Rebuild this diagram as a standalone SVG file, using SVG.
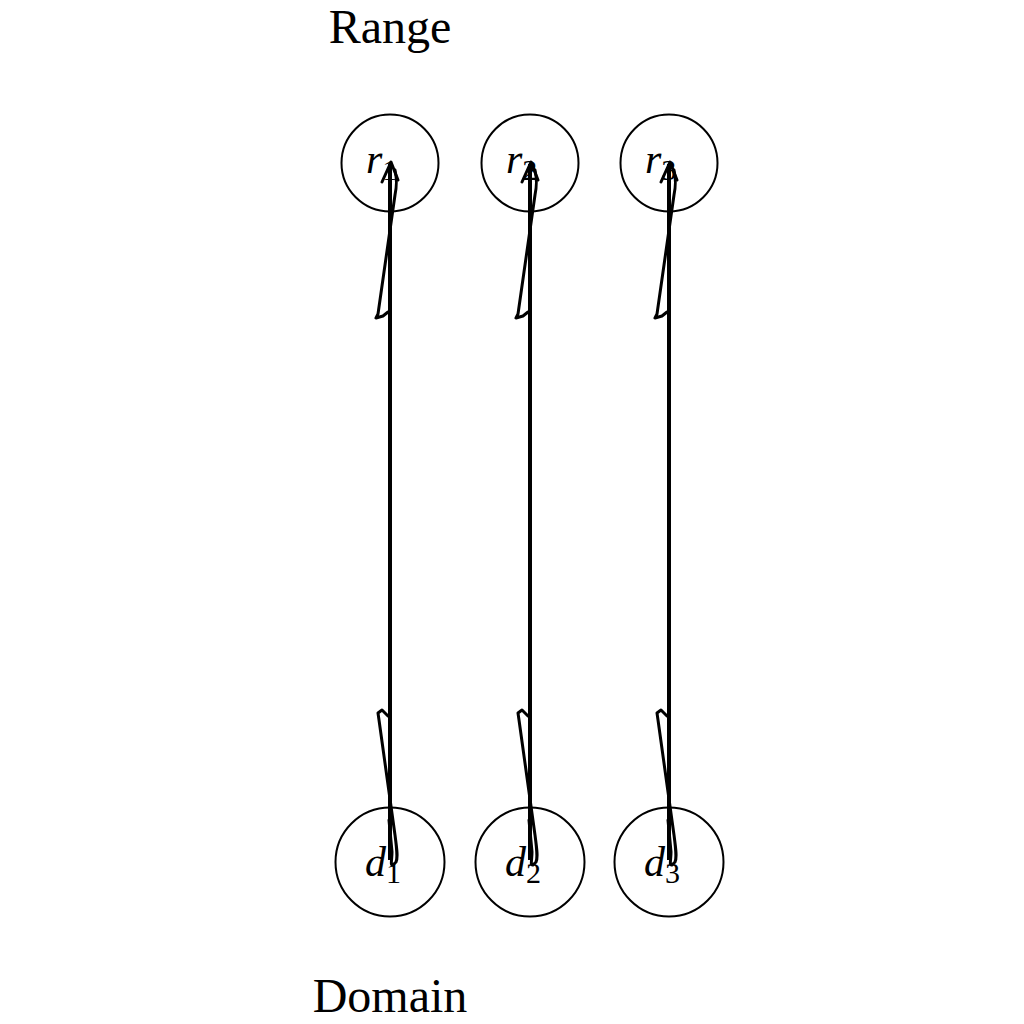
<svg xmlns="http://www.w3.org/2000/svg" width="1024" height="1024" viewBox="0 0 1024 1024">
<defs>
<style>
.node{fill:none;stroke:#000;stroke-width:2}
.lbl{font-family:"Liberation Serif",serif;font-size:42px;font-style:italic;fill:#000}
.sub{font-family:"Liberation Serif",serif;font-size:30px;font-style:normal;fill:#000}
.title{font-family:"Liberation Serif",serif;font-size:48px;fill:#000}
.main{fill:none;stroke:#000;stroke-width:4}
.loop{fill:none;stroke:#000;stroke-width:3;stroke-linejoin:round;stroke-linecap:round}
</style>
<g id="conn">
<path class="main" d="M0 860 L0 164"/>
<path class="loop" d="M-8 182 L1 162 L8 180"/>
<path class="loop" d="M5 170 C 7 180, 7 185, 5 195 L-12 314 L-14 318 L-7 316 L-2 312"/>
<path class="loop" d="M-2 716 L-8 710 L-12 713 L-11 720 L5 835 C 7 850, 8 858, 6 862 L3 865 C 0 866, 2 860, 2 852 L-1 820"/>
</g>
</defs>
<text class="title" x="390" y="43" text-anchor="middle">Range</text>
<text class="title" x="390" y="1012" text-anchor="middle">Domain</text>
<g id="r1"><circle class="node" cx="390" cy="163" r="48.5"/><text class="lbl" x="366" y="173">r<tspan class="sub" dy="7">1</tspan></text></g>
<g id="r2"><circle class="node" cx="530" cy="163" r="48.5"/><text class="lbl" x="506" y="173">r<tspan class="sub" dy="7">2</tspan></text></g>
<g id="r3"><circle class="node" cx="669" cy="163" r="48.5"/><text class="lbl" x="645" y="173">r<tspan class="sub" dy="7">3</tspan></text></g>
<g id="d1"><circle class="node" cx="390" cy="862" r="54.5"/><text class="lbl" x="365" y="876">d<tspan class="sub" dy="7">1</tspan></text></g>
<g id="d2"><circle class="node" cx="530" cy="862" r="54.5"/><text class="lbl" x="505" y="876">d<tspan class="sub" dy="7">2</tspan></text></g>
<g id="d3"><circle class="node" cx="669" cy="862" r="54.5"/><text class="lbl" x="644" y="876">d<tspan class="sub" dy="7">3</tspan></text></g>
<g id="connectors">
<use href="#conn" x="390"/>
<use href="#conn" x="530"/>
<use href="#conn" x="669"/>
</g>
</svg>
